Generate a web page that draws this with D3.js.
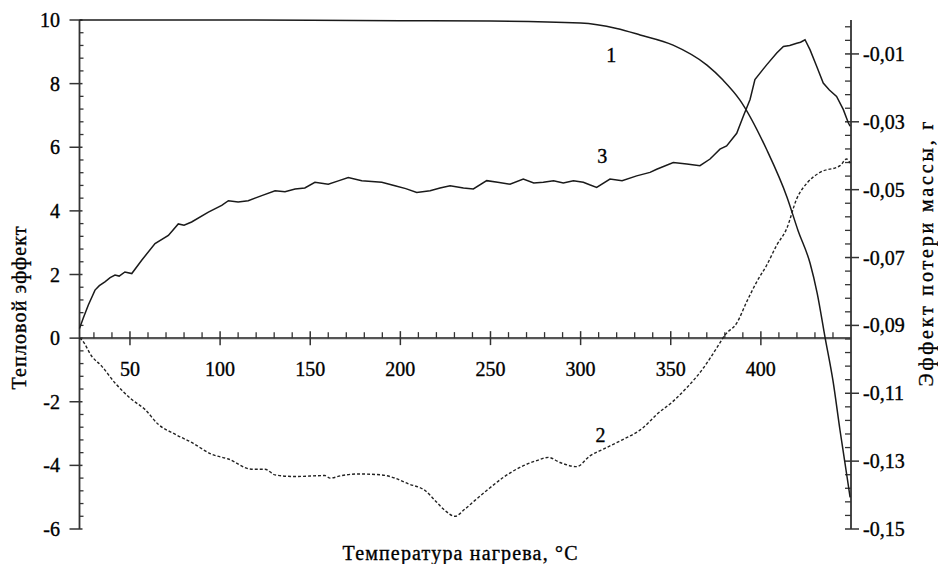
<!DOCTYPE html>
<html><head><meta charset="utf-8">
<script src="https://cdn.jsdelivr.net/npm/d3@7"></script>
<style>body{margin:0;background:#fff}svg{display:block}text{font-family:"Liberation Serif","Times New Roman",serif;fill:#000;stroke:#000;stroke-width:0.35px}</style>
</head><body><svg id="c" width="938" height="564" font-family="Liberation Serif, serif"></svg>
<script>
// Curve 1: mass loss (right axis, g)
const t1 = [22,100,200,250,300,320,333,351.3,370.1,379,388.4,403.4,414.5,420.6,427.3,431.2,435.6,440,443.9,447.8,449.5];
const m1 = [0,0,-0.0002,-0.0003,-0.0009,-0.0025,-0.0044,-0.0074,-0.0133,-0.0177,-0.0236,-0.0384,-0.0522,-0.062,-0.0717,-0.0804,-0.0935,-0.1063,-0.1209,-0.1346,-0.1407];
// Curve 2: dashed (left axis)
const t2 = [22,23.2,28.8,34.3,41.7,51,58.3,65.7,75,84.2,95.3,104.6,117.5,124.9,130.5,141.6,158.2,161,167.5,176.7,189.7,197,204.4,213.7,219.2,224.8,230.3,235.9,241.4,247.9,257.1,266.4,275.6,282.1,288.6,297.8,305.2,312.6,321.9,334.8,342.2,351.4,358.9,368.1,375.5,380.1,386.6,392.2,397.7,403.2,408.8,414.3,419.9,426,432.8,443.9,447.6,449.5];
const v2 = [0,-0.05,-0.57,-0.88,-1.41,-1.93,-2.24,-2.71,-3.02,-3.28,-3.65,-3.8,-4.12,-4.12,-4.3,-4.35,-4.32,-4.4,-4.32,-4.27,-4.3,-4.4,-4.58,-4.79,-5.1,-5.42,-5.6,-5.37,-5.1,-4.79,-4.38,-4.06,-3.85,-3.75,-3.91,-4.04,-3.7,-3.49,-3.23,-2.81,-2.4,-1.98,-1.56,-0.94,-0.31,0.1,0.47,1.15,1.77,2.29,2.92,3.44,4.38,4.9,5.21,5.42,5.63,5.5];
// Curve 3: jagged solid (left axis)
const t3 = [22,24.1,26.9,30.6,33,36.1,39,41.7,44,47.2,51,56.5,63.9,71.3,76.8,80,84.2,93.5,100.9,104.6,110,115.6,123.1,130.5,136,141.6,147,152.6,160,166,171.1,178.6,189.7,197,203,209.1,216.5,222,227.6,235,240.5,247.9,254,260.8,268.2,274,279.3,285,290.4,296,301.5,305,308.9,316.3,323,331.1,338.5,342.2,351.4,358.9,366.2,371.8,377.3,381,386.6,390.3,394,396.7,403.2,408.8,412.5,416,419.9,422,424.5,427.3,431,434.6,438,442,445.7,448.5,449.5];
const v3 = [0.3,0.63,1.04,1.51,1.65,1.77,1.9,1.98,1.95,2.08,2.03,2.45,2.97,3.23,3.59,3.55,3.65,3.96,4.17,4.32,4.28,4.32,4.48,4.63,4.6,4.69,4.72,4.9,4.84,4.95,5.05,4.95,4.9,4.79,4.7,4.58,4.63,4.72,4.79,4.72,4.69,4.95,4.9,4.84,5.0,4.88,4.9,4.95,4.88,4.95,4.9,4.82,4.74,5.0,4.95,5.1,5.21,5.31,5.52,5.47,5.42,5.63,5.94,6.04,6.44,6.98,7.5,8.13,8.59,8.96,9.17,9.2,9.27,9.3,9.38,9.06,8.54,8.02,7.8,7.6,7.19,6.77,6.66];
// Tick labels
const xTicks = [50,100,150,200,250,300,350,400];
const yLTicks = [10,8,6,4,2,0,-2,-4,-6];
const yRTicks = [-0.01,-0.03,-0.05,-0.07,-0.09,-0.11,-0.13,-0.15];
const curveLabels = [{t:317,v:8.9,txt:"1"},{t:311,v:-3.05,txt:"2"},{t:312,v:5.72,txt:"3"}];
const xTitle = "Температура нагрева, °C";
const yLTitle = "Тепловой эффект";
const yRTitle = "Эффект потери массы, г";

const svg = d3.select("#c");
const x = d3.scaleLinear().domain([22,450]).range([79.5,851]);
const yL = d3.scaleLinear().domain([-6,10]).range([529,20]);
const yR = d3.scaleLinear().domain([-0.15,0]).range([529,20]);
const axisCol = "#555";

// x axis line at zero
const gx = svg.append("g");
gx.append("line").attr("x1",x(22)).attr("x2",x(450)).attr("y1",yL(0)).attr("y2",yL(0)).attr("stroke",axisCol).attr("stroke-width",2.2);
const minorX = d3.range(30,450,10).filter(d=>d%50!==0);
gx.selectAll(".mx").data(minorX).join("line").attr("x1",d=>x(d)).attr("x2",d=>x(d)).attr("y1",yL(0)-6).attr("y2",yL(0)).attr("stroke","#333").attr("stroke-width",1.3);
gx.selectAll(".Mx").data(xTicks).join("line").attr("x1",d=>x(d)).attr("x2",d=>x(d)).attr("y1",yL(0)-7).attr("y2",yL(0)+7).attr("stroke","#333").attr("stroke-width",1.5);
gx.selectAll(".lx").data(xTicks).join("text").attr("x",d=>x(d)).attr("y",yL(0)+38).attr("text-anchor","middle").attr("font-size",20).text(d=>d);

// left axis
const gl = svg.append("g");
gl.append("line").attr("x1",x(22)).attr("x2",x(22)).attr("y1",yL(10)).attr("y2",yL(-6)).attr("stroke","#333").attr("stroke-width",1.8);
const minorL = d3.range(-6,10.001,0.4).map(d=>+d.toFixed(2)).filter(d=>Math.abs(d/2-Math.round(d/2))>0.01);
gl.selectAll(".ml").data(minorL).join("line").attr("x1",x(22)).attr("x2",x(22)+4).attr("y1",d=>yL(d)).attr("y2",d=>yL(d)).attr("stroke","#333").attr("stroke-width",1.3);
gl.selectAll(".Ml").data(yLTicks).join("line").attr("x1",x(22)-10).attr("x2",x(22)+3).attr("y1",d=>yL(d)).attr("y2",d=>yL(d)).attr("stroke","#333").attr("stroke-width",1.5);
gl.selectAll(".ll").data(yLTicks).join("text").attr("x",60).attr("y",d=>yL(d)+7).attr("text-anchor","end").attr("font-size",20).text(d=>d<0?"-"+Math.abs(d):d);

// right axis
const xr = x(450);
const gr = svg.append("g");
gr.append("line").attr("x1",xr).attr("x2",xr).attr("y1",yR(0)).attr("y2",yR(-0.15)).attr("stroke","#333").attr("stroke-width",1.8);
const minorR = d3.range(0,36).map(k=>+(-0.01-0.004*k).toFixed(4)).concat([-0.006,-0.002]).filter(d=>Math.abs(((-d-0.01)/0.02)-Math.round((-d-0.01)/0.02))>0.01);
gr.selectAll(".mr").data(minorR).join("line").attr("x1",xr-6).attr("x2",xr).attr("y1",d=>yR(d)).attr("y2",d=>yR(d)).attr("stroke","#333").attr("stroke-width",1.3);
gr.selectAll(".Mr").data(yRTicks).join("line").attr("x1",xr-6).attr("x2",xr+8).attr("y1",d=>yR(d)).attr("y2",d=>yR(d)).attr("stroke","#333").attr("stroke-width",1.5);
gr.selectAll(".lr").data(yRTicks).join("text").attr("x",863).attr("y",d=>yR(d)+7).attr("text-anchor","start").attr("font-size",20).text(d=>"-"+Math.abs(d).toFixed(2).replace(".",","));

// curves
const line1 = d3.line().x((d,i)=>x(t1[i])).y((d,i)=>yR(m1[i])).curve(d3.curveMonotoneX);
svg.append("path").attr("d",line1(t1)).attr("fill","none").attr("stroke","#1a1a1a").attr("stroke-width",1.5);
const line2 = d3.line().x((d,i)=>x(t2[i])).y((d,i)=>yL(v2[i])).curve(d3.curveMonotoneX);
svg.append("path").attr("d",line2(t2)).attr("fill","none").attr("stroke","#222").attr("stroke-width",1.4).attr("stroke-dasharray","3,2");
const line3 = d3.line().x((d,i)=>x(t3[i])).y((d,i)=>yL(v3[i]));
svg.append("path").attr("d",line3(t3)).attr("fill","none").attr("stroke","#1a1a1a").attr("stroke-width",1.5);

// curve labels
svg.selectAll(".cl").data(curveLabels).join("text").attr("x",d=>x(d.t)).attr("y",d=>yL(d.v)+7).attr("text-anchor","middle").attr("font-size",20).text(d=>d.txt);

// titles
svg.append("text").attr("x",460).attr("y",560).attr("text-anchor","middle").attr("font-size",20).attr("textLength",235).attr("lengthAdjust","spacing").text(xTitle);
svg.append("text").attr("transform","translate(26,308) rotate(-90)").attr("text-anchor","middle").attr("font-size",20).attr("textLength",163).attr("lengthAdjust","spacing").text(yLTitle);
svg.append("text").attr("transform","translate(933,254) rotate(-90)").attr("text-anchor","middle").attr("font-size",20).attr("textLength",265).attr("lengthAdjust","spacing").text(yRTitle);
</script></body></html>
